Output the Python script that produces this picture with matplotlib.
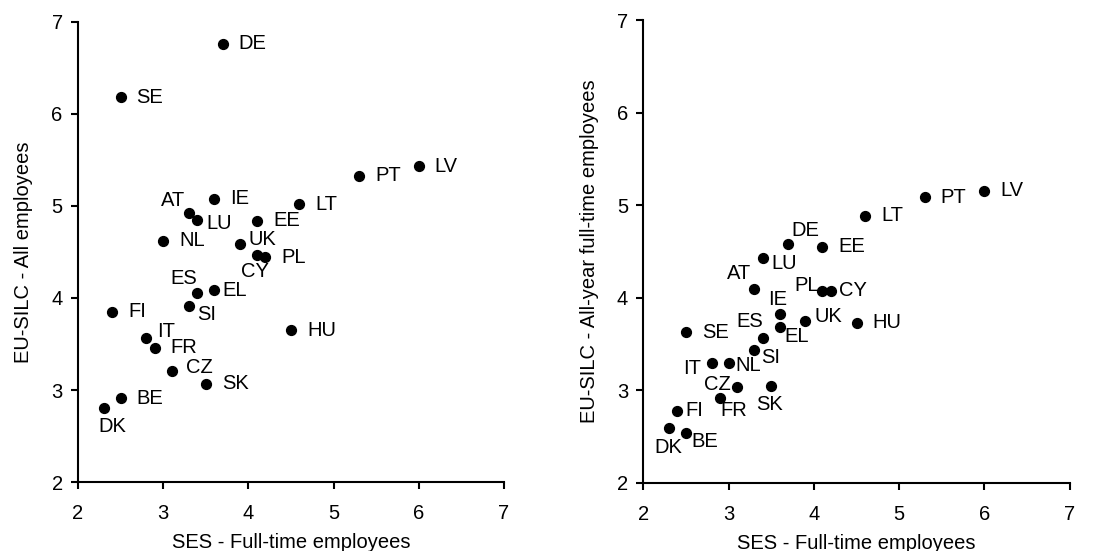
import matplotlib.pyplot as plt

plt.rcParams['font.family'] = ['Liberation Sans', 'DejaVu Sans']

# SES full-time (x) vs EU-SILC (y), by country
left_countries = ['DE', 'SE', 'PT', 'LV', 'AT', 'IE', 'LU', 'LT', 'EE', 'NL', 'UK', 'CY', 'PL',
                  'ES', 'EL', 'FI', 'SI', 'HU', 'IT', 'FR', 'CZ', 'SK', 'BE', 'DK']
left_x = [3.7, 2.5, 5.3, 6.0, 3.3, 3.6, 3.4, 4.6, 4.1, 3.0, 3.9, 4.1, 4.2,
          3.4, 3.6, 2.4, 3.3, 4.5, 2.8, 2.9, 3.1, 3.5, 2.5, 2.3]
left_y = [6.76, 6.18, 5.33, 5.43, 4.92, 5.08, 4.85, 5.02, 4.84, 4.62, 4.59, 4.47, 4.44,
          4.05, 4.09, 3.85, 3.91, 3.65, 3.57, 3.46, 3.21, 3.07, 2.91, 2.81]

right_countries = ['LV', 'PT', 'LT', 'DE', 'EE', 'LU', 'AT', 'PL', 'CY', 'IE', 'UK', 'HU',
                   'SE', 'EL', 'ES', 'SI', 'IT', 'NL', 'CZ', 'SK', 'FR', 'FI', 'DK', 'BE']
right_x = [6.0, 5.3, 4.6, 3.7, 4.1, 3.4, 3.3, 4.1, 4.2, 3.6, 3.9, 4.5,
           2.5, 3.6, 3.4, 3.3, 2.8, 3.0, 3.1, 3.5, 2.9, 2.4, 2.3, 2.5]
right_y = [5.16, 5.09, 4.89, 4.58, 4.55, 4.43, 4.10, 4.07, 4.07, 3.82, 3.75, 3.73,
           3.63, 3.68, 3.57, 3.43, 3.29, 3.29, 3.03, 3.05, 2.92, 2.78, 2.59, 2.54]

x_label = 'SES - Full-time employees'
left_ylabel = 'EU-SILC - All employees'
right_ylabel = 'EU-SILC - All-year full-time employees'
ticks = [2, 3, 4, 5, 6, 7]

# label offsets in pixels: (dx, dy, ha); default is to the right
left_offsets = {
    'AT': (-4, 13, 'right'), 'LU': (9, -4, 'left'), 'UK': (9, 4, 'left'),
    'CY': (-2, -17, 'center'), 'ES': (0, 15, 'right'), 'EL': (8, -1, 'left'),
    'SI': (8, -8, 'left'), 'IT': (11, 6, 'left'), 'CZ': (14, 3, 'left'),
    'DK': (9, -19, 'center'),
}
right_offsets = {
    'DE': (3, 14, 'left'), 'LU': (9, -5, 'left'), 'AT': (-3, 15, 'right'),
    'PL': (-4, 6, 'right'), 'CY': (8, 1, 'left'), 'IE': (-12, 15, 'left'),
    'UK': (9, 4, 'left'), 'ES': (0, 16, 'right'), 'EL': (5, -9, 'left'),
    'SI': (7, -7, 'left'), 'IT': (-10, -5, 'right'), 'NL': (7, -2, 'left'),
    'CZ': (-6, 3, 'right'), 'SK': (-15, -19, 'left'), 'FR': (0, -13, 'left'),
    'FI': (8, 0, 'left'), 'DK': (-15, -19, 'left'), 'BE': (5, -9, 'left'),
}

FS = 14.5


def draw_panel(ax, names, xs, ys, offsets, ylabel):
    ax.scatter(xs, ys, s=50, color='black', zorder=3)
    for name, x, y in zip(names, xs, ys):
        dx, dy, ha = offsets.get(name, (16, 0, 'left'))
        ax.annotate(name, (x, y), xytext=(dx, dy), textcoords='offset pixels',
                    ha=ha, va='center', fontsize=FS)
    ax.set_xlim(2, 7)
    ax.set_ylim(2, 7)
    ax.set_xticks(ticks)
    ax.set_yticks(ticks)
    for side in ['top', 'right']:
        ax.spines[side].set_visible(False)
    for side in ['left', 'bottom']:
        ax.spines[side].set_linewidth(1.5)
    ax.tick_params(axis='both', labelsize=FS, width=1.5, length=5, direction='out')
    ax.tick_params(axis='x', pad=11)
    ax.tick_params(axis='y', pad=6)
    ax.set_xlabel(x_label, fontsize=FS, labelpad=7)
    ax.set_ylabel(ylabel, fontsize=FS, labelpad=13)


fig = plt.figure(figsize=(11.14, 5.51), dpi=100)
ax1 = fig.add_axes([0.070, 0.125, 0.3824, 0.8355])
ax2 = fig.add_axes([0.5775, 0.124, 0.3828, 0.8388])

draw_panel(ax1, left_countries, left_x, left_y, left_offsets, left_ylabel)
draw_panel(ax2, right_countries, right_x, right_y, right_offsets, right_ylabel)

fig.savefig('out.png', dpi=100)
